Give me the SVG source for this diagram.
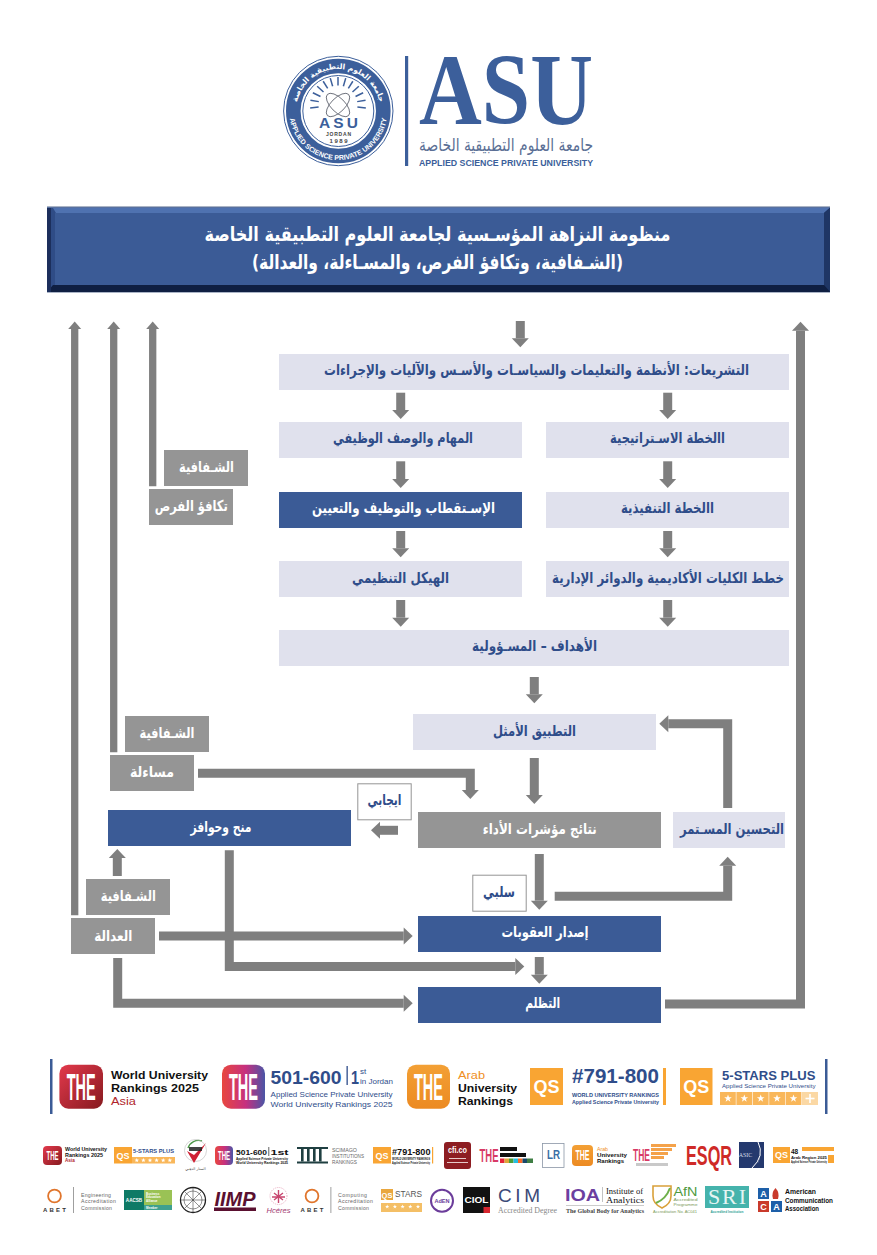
<svg xmlns="http://www.w3.org/2000/svg" width="877" height="1255" viewBox="0 0 877 1255">
<style>
.lt{fill:#e0e1ed}.bl{fill:#3b5b96}.gr{fill:#959595}
.ar{font-family:"DejaVu Sans",sans-serif;font-weight:700;text-anchor:middle;direction:rtl}
.w{fill:#fff}.n{fill:#2f4d8a}
.s{font-family:"Liberation Sans",Arial,sans-serif}
.b{font-weight:700}
.sf{font-family:"Liberation Serif","Times New Roman",serif}
.k{fill:#111}.th{fill:#fff;font-family:"Liberation Sans",sans-serif;font-weight:700;text-anchor:middle}
.pk{fill:#d83a66}
.g6{fill:#666}
.c{fill:none;stroke:#7f7f7f;stroke-width:9;stroke-linejoin:miter}
.t{stroke-width:7.3}
.ring{fill:none;stroke:#e0752c}
</style>
<defs>
<marker id="head" markerUnits="userSpaceOnUse" markerWidth="10" markerHeight="18" refX="0" refY="9" orient="auto" overflow="visible"><path d="M0 0.5L9 9L0 17.5z" fill="#7f7f7f"/></marker>
<marker id="headT" markerUnits="userSpaceOnUse" markerWidth="8" markerHeight="14" refX="0" refY="7" orient="auto" overflow="visible"><path d="M0 0.5L7.5 7L0 13.5z" fill="#7f7f7f"/></marker>
<linearGradient id="gRed" x1="0" x2="1" y1="0" y2="1"><stop offset="0" stop-color="#e3394c"/><stop offset="1" stop-color="#861a1f"/></linearGradient>
<linearGradient id="gMix" x1="0" x2="1" y1="0" y2="0"><stop offset="0" stop-color="#e8473f"/><stop offset=".55" stop-color="#c6307f"/><stop offset="1" stop-color="#4a55a6"/></linearGradient>
<linearGradient id="gOr" x1="0" x2="0" y1="0" y2="1"><stop offset="0" stop-color="#f3a035"/><stop offset="1" stop-color="#ec8a22"/></linearGradient>
<polygon id="star" fill="#fff" points="0,-4 1,-1.3 3.8,-1.2 1.5,.5 2.4,3.2 0,1.6 -2.4,3.2 -1.5,.5 -3.8,-1.2 -1,-1.3"/>
<line id="ray" x1="338" y1="85.5" x2="338" y2="77" stroke="#3c5f9b" stroke-width="1.5"/>
</defs>
<rect width="877" height="1255" fill="#fff"/>

<g id="logo-seal">
<circle cx="338.3" cy="111" r="54.7" fill="none" stroke="#3c5f9b" stroke-width="1"/>
<circle cx="338.3" cy="111" r="45" fill="none" stroke="#3c5f9b" stroke-width="14.6"/>
<circle cx="338.3" cy="111" r="35.5" fill="none" stroke="#3c5f9b" stroke-width="1"/>
<path id="sealTop" d="M296.3 111A42 42 0 0 1 380.3 111" fill="none"/>
<path id="sealBot" d="M289.3 111A49 49 0 0 0 387.3 111" fill="none"/>
<text font-family="DejaVu Sans,sans-serif" font-weight="700" font-size="7.6" fill="#fff" text-anchor="middle"><textPath href="#sealTop" startOffset="50%">جامعة العلوم التطبيقية الخاصة</textPath></text>
<text class="s b" font-size="7" fill="#fff" text-anchor="middle"><textPath href="#sealBot" startOffset="50%">APPLIED SCIENCE PRIVATE UNIVERSITY</textPath></text>
<use href="#ray" transform="rotate(-96 338 105)"/><use href="#ray" transform="rotate(-80 338 105)"/><use href="#ray" transform="rotate(-64 338 105)"/><use href="#ray" transform="rotate(-48 338 105)"/><use href="#ray" transform="rotate(-32 338 105)"/><use href="#ray" transform="rotate(-16 338 105)"/><use href="#ray"/><use href="#ray" transform="rotate(16 338 105)"/><use href="#ray" transform="rotate(32 338 105)"/><use href="#ray" transform="rotate(48 338 105)"/><use href="#ray" transform="rotate(64 338 105)"/><use href="#ray" transform="rotate(80 338 105)"/><use href="#ray" transform="rotate(96 338 105)"/>
<g fill="none" stroke="#555a66" stroke-width=".8"><ellipse cx="338" cy="105" rx="15" ry="7" transform="rotate(45 338 105)"/><ellipse cx="338" cy="105" rx="15" ry="7" transform="rotate(-45 338 105)"/></g>
<text class="s b" x="338.5" y="128" font-size="15.5" fill="#3c5f9b" text-anchor="middle" textLength="39" lengthAdjust="spacing">ASU</text>
<text class="s b" x="338.5" y="135.6" font-size="5" fill="#444" text-anchor="middle" textLength="25" lengthAdjust="spacing">JORDAN</text>
<text class="s b" x="338.5" y="143.3" font-size="6" fill="#444" text-anchor="middle" textLength="18" lengthAdjust="spacing">1989</text>
</g>
<g id="logo-asu">
<rect x="405" y="56" width="3.2" height="110" fill="#3c5f9b"/>
<text class="sf b" x="419" y="124.3" font-size="102" fill="#3c5f9b" textLength="174" lengthAdjust="spacingAndGlyphs">ASU</text>
<text x="506" y="151" font-family="DejaVu Sans,sans-serif" font-size="17.5" fill="#5b6f95" text-anchor="middle" direction="rtl" textLength="174" lengthAdjust="spacingAndGlyphs">جامعة العلوم التطبيقية الخاصة</text>
<text class="s b" x="419" y="165.5" font-size="9.6" fill="#3c5f9b" textLength="174" lengthAdjust="spacingAndGlyphs">APPLIED SCIENCE PRIVATE UNIVERSITY</text>
</g>

<g id="banner">
<rect x="47" y="206" width="783" height="87" fill="#aab4c6"/>
<rect x="47" y="207.5" width="783" height="84.5" fill="#1c2f5c"/>
<polygon points="47,207.5 830,207.5 824,213 53,213" fill="#4f72b0"/>
<polygon points="51,208 53,208 56,213 56,285 51,289" fill="#2f4c86"/>
<polygon points="824,213 830,208 830,292 824,285" fill="#1f3665"/>
<polygon points="47,292 830,292 824,285 53,285" fill="#0f1f42"/>
<rect x="47" y="208" width="4" height="84" fill="#1c2f5c"/>
<rect x="55" y="213" width="769" height="72" fill="#3b5b96"/>
<text class="ar w" x="437.5" y="241" font-size="20" textLength="466" lengthAdjust="spacingAndGlyphs">منظومة النزاهة المؤسـسية لجامعة العلوم التطبيقية الخاصة</text>
<text class="ar w" x="437.5" y="269" font-size="20" textLength="371" lengthAdjust="spacingAndGlyphs">(الشـفافية، وتكافؤ الفرص، والمسـاءلة، والعدالة)</text>
</g>

<g id="connectors">
<path class="c" marker-end="url(#head)" d="M520.3 321V338.3"/>
<path class="c" marker-end="url(#head)" d="M400.7 392.7V410"/>
<path class="c" marker-end="url(#head)" d="M400.7 461.3V479"/>
<path class="c" marker-end="url(#head)" d="M400.7 531V548.3"/>
<path class="c" marker-end="url(#head)" d="M400.7 600V617.7"/>
<path class="c" marker-end="url(#head)" d="M667.7 392.7V410"/>
<path class="c" marker-end="url(#head)" d="M667.7 461.3V479"/>
<path class="c" marker-end="url(#head)" d="M667.7 531V548.3"/>
<path class="c" marker-end="url(#head)" d="M667.7 600V617.7"/>
<path class="c" marker-end="url(#head)" d="M534.3 677V694.3"/>
<path class="c" marker-end="url(#head)" d="M534.3 758V795"/>
<path class="c" marker-end="url(#head)" d="M539.3 854V900.7"/>
<path class="c" marker-end="url(#head)" d="M539.3 957V974.7"/>
<path class="c" marker-end="url(#head)" d="M398 830.3H380"/>
<path class="c" marker-end="url(#head)" d="M117.3 876V858"/>
<path class="c" marker-end="url(#head)" d="M198 773.3H470.3V790"/>
<path class="c" marker-end="url(#head)" d="M727.7 808V723.7H668.3"/>
<path class="c" marker-end="url(#head)" d="M554.7 896.3H727.7V865.7"/>
<path class="c" marker-end="url(#head)" d="M229.3 850.3V966.5H515.3"/>
<path class="c" marker-end="url(#head)" d="M159 936H403.7"/>
<path class="c" marker-end="url(#head)" d="M117.7 958V1003.3H403.7"/>
<path class="c" marker-end="url(#head)" d="M665 1004H800.5V330.7"/>
<path class="c t" marker-end="url(#headT)" d="M74.7 915.3V329"/>
<path class="c t" marker-end="url(#headT)" d="M113.7 752.3V329"/>
<path class="c t" marker-end="url(#headT)" d="M152.7 486.3V329"/>
</g>

<g id="n-legislation"><rect class="lt" x="279" y="354" width="510" height="36"/><text class="ar n" x="536.5" y="375" font-size="15" textLength="425" lengthAdjust="spacingAndGlyphs">التشريعات: الأنظمة والتعليمات والسياسـات والأسـس والآليات والإجراءات</text></g>
<g id="n-duties"><rect class="lt" x="279" y="422" width="243" height="36"/><text class="ar n" x="403" y="443" font-size="15" textLength="140" lengthAdjust="spacingAndGlyphs">المهام والوصف الوظيفي</text></g>
<g id="n-strategic"><rect class="lt" x="546" y="422" width="243" height="36"/><text class="ar n" x="667.5" y="443" font-size="15" textLength="115" lengthAdjust="spacingAndGlyphs">االخطة الاسـتراتيجية</text></g>
<g id="n-recruit"><rect class="bl" x="279" y="492" width="243" height="36"/><text class="ar w" x="403.5" y="513" font-size="15" textLength="183" lengthAdjust="spacingAndGlyphs">الإسـتقطاب والتوظيف والتعيين</text></g>
<g id="n-exec"><rect class="lt" x="546" y="492" width="243" height="36"/><text class="ar n" x="667.5" y="513" font-size="15" textLength="93" lengthAdjust="spacingAndGlyphs">االخطة التنفيذية</text></g>
<g id="n-structure"><rect class="lt" x="279" y="561" width="243" height="36"/><text class="ar n" x="400.5" y="582.5" font-size="15" textLength="97" lengthAdjust="spacingAndGlyphs">الهيكل التنظيمي</text></g>
<g id="n-faculties"><rect class="lt" x="546" y="561" width="243" height="36"/><text class="ar n" x="668" y="582.5" font-size="15" textLength="232" lengthAdjust="spacingAndGlyphs">خطط الكليات الأكاديمية والدوائر الإدارية</text></g>
<g id="n-goals"><rect class="lt" x="279" y="630" width="510" height="36"/><text class="ar n" x="534.5" y="651" font-size="15" textLength="125" lengthAdjust="spacingAndGlyphs">الأهداف – المسـؤولية</text></g>
<g id="n-optimal"><rect class="lt" x="413" y="714" width="243" height="36"/><text class="ar n" x="534.5" y="735.5" font-size="15" textLength="83" lengthAdjust="spacingAndGlyphs">التطبيق الأمثل</text></g>
<g id="n-kpi"><rect class="gr" x="418" y="812" width="243" height="36"/><text class="ar w" x="539.7" y="833.5" font-size="15" textLength="114" lengthAdjust="spacingAndGlyphs">نتائج مؤشرات الأداء</text></g>
<g id="n-improve"><rect class="lt" x="673" y="812" width="112" height="36"/><text class="ar n" x="732" y="833.5" font-size="15" textLength="104" lengthAdjust="spacingAndGlyphs">التحسين المسـتمر</text></g>
<g id="n-penalty"><rect class="bl" x="418" y="916" width="243" height="36"/><text class="ar w" x="545" y="937" font-size="15" textLength="87" lengthAdjust="spacingAndGlyphs">إصدار العقوبات</text></g>
<g id="n-grievance"><rect class="bl" x="418" y="987" width="243" height="36"/><text class="ar w" x="542.7" y="1008" font-size="15" textLength="35" lengthAdjust="spacingAndGlyphs">التظلم</text></g>
<g id="n-negative"><rect x="472.8" y="875.2" width="53.4" height="36" fill="#fff" stroke="#959595"/><text class="ar n" x="499" y="897" font-size="15" textLength="32" lengthAdjust="spacingAndGlyphs">سلبي</text></g>
<g id="n-positive"><rect x="357.8" y="783.8" width="53.4" height="36" fill="#fff" stroke="#959595"/><text class="ar n" x="384.5" y="805" font-size="15" textLength="34" lengthAdjust="spacingAndGlyphs">ايجابي</text></g>
<g id="n-grants"><rect class="bl" x="108" y="810" width="243" height="36"/><text class="ar w" x="221" y="832" font-size="15" textLength="61" lengthAdjust="spacingAndGlyphs">منح وحوافز</text></g>
<g id="n-transp1"><rect class="gr" x="164" y="450" width="84" height="36"/><text class="ar w" x="206.5" y="471.5" font-size="15" textLength="55" lengthAdjust="spacingAndGlyphs">الشـفافية</text></g>
<g id="n-equal"><rect class="gr" x="149" y="489" width="84" height="36"/><text class="ar w" x="191.3" y="511" font-size="15" textLength="73" lengthAdjust="spacingAndGlyphs">تكافؤ الفرص</text></g>
<g id="n-transp2"><rect class="gr" x="125" y="716" width="84" height="36"/><text class="ar w" x="167" y="737.5" font-size="15" textLength="55" lengthAdjust="spacingAndGlyphs">الشـفافية</text></g>
<g id="n-account"><rect class="gr" x="110" y="755" width="84" height="36"/><text class="ar w" x="152" y="777" font-size="15" textLength="44" lengthAdjust="spacingAndGlyphs">مساءلة</text></g>
<g id="n-transp3"><rect class="gr" x="86" y="879" width="84" height="36"/><text class="ar w" x="128.3" y="900.5" font-size="15" textLength="55" lengthAdjust="spacingAndGlyphs">الشـفافية</text></g>
<g id="n-justice"><rect class="gr" x="71" y="918" width="84" height="36"/><text class="ar w" x="113.3" y="940.5" font-size="15" textLength="38" lengthAdjust="spacingAndGlyphs">العدالة</text></g>

<g id="rank-row">
<rect x="50" y="1059" width="2.5" height="55" fill="#3b5b96"/><rect x="825" y="1059" width="2.5" height="55" fill="#3b5b96"/>
<rect x="59.4" y="1064.7" width="43.6" height="44" rx="9" fill="url(#gRed)"/><text class="th" x="81.2" y="1100" font-size="36" textLength="29" lengthAdjust="spacingAndGlyphs">THE</text>
<g class="s b" font-size="11.4"><text x="111" y="1078.5" class="k" textLength="97" lengthAdjust="spacingAndGlyphs">World University</text><text x="111" y="1091.5" class="k" textLength="88" lengthAdjust="spacingAndGlyphs">Rankings 2025</text><text x="111" y="1104.5" fill="#b01f2c" font-weight="400" textLength="25" lengthAdjust="spacingAndGlyphs">Asia</text></g>
<rect x="222" y="1064.7" width="43" height="44" rx="9" fill="url(#gMix)"/><text class="th" x="243.5" y="1100" font-size="36" textLength="29" lengthAdjust="spacingAndGlyphs">THE</text>
<g class="s n"><text class="b" x="270.6" y="1084" font-size="19" textLength="71" lengthAdjust="spacingAndGlyphs">501-600</text><rect x="346.5" y="1066" width="1.3" height="19" fill="#2f4d8a"/><text class="b" x="351" y="1084" font-size="19" textLength="8" lengthAdjust="spacingAndGlyphs">1</text><text x="360" y="1074" font-size="8">st</text><text x="360" y="1084" font-size="7.4" textLength="33" lengthAdjust="spacingAndGlyphs">in Jordan</text>
<text x="270.6" y="1097" font-size="8" textLength="122" lengthAdjust="spacingAndGlyphs">Applied Science Private University</text><text x="270.6" y="1107" font-size="8" textLength="122" lengthAdjust="spacingAndGlyphs">World University Rankings 2025</text></g>
<rect x="407" y="1064.7" width="43" height="44" rx="9" fill="url(#gOr)"/><text class="th" x="428.5" y="1100" font-size="36" textLength="29" lengthAdjust="spacingAndGlyphs">THE</text>
<g class="s" font-size="11.4"><text x="458" y="1079" fill="#ef8f24" textLength="27" lengthAdjust="spacingAndGlyphs">Arab</text><text class="k b" x="458" y="1092" textLength="59" lengthAdjust="spacingAndGlyphs">University</text><text class="k b" x="458" y="1105" textLength="55" lengthAdjust="spacingAndGlyphs">Rankings</text></g>
<rect x="530" y="1068" width="33" height="37" fill="#f9a533"/><text class="th" x="546.5" y="1093" font-size="19" textLength="26" lengthAdjust="spacingAndGlyphs">QS</text>
<rect x="663" y="1068" width="3" height="37" fill="#f9a533"/>
<g class="s b n"><text x="572" y="1083" font-size="19.5" textLength="87" lengthAdjust="spacingAndGlyphs">#791-800</text><text x="572" y="1097" font-size="5.6" textLength="87" lengthAdjust="spacingAndGlyphs">WORLD UNIVERSITY RANKINGS</text><text x="572" y="1104" font-size="5.6" textLength="87" lengthAdjust="spacingAndGlyphs">Applied  Science Private University</text></g>
<rect x="680" y="1068" width="32.5" height="37" fill="#f9a533"/><text class="th" x="696.2" y="1093" font-size="19" textLength="26" lengthAdjust="spacingAndGlyphs">QS</text>
<g class="s b n"><text x="722" y="1079.5" font-size="13" textLength="93.5" lengthAdjust="spacingAndGlyphs">5-STARS PLUS</text><text x="722" y="1088" font-size="6" textLength="93.5" font-weight="400" lengthAdjust="spacingAndGlyphs">Applied Science Private University</text></g>
<g fill="#f9b75a"><rect x="720" y="1092" width="15.8" height="13"/><rect x="736.4" y="1092" width="15.8" height="13"/><rect x="752.8" y="1092" width="15.8" height="13"/><rect x="769.2" y="1092" width="15.8" height="13"/><rect x="785.6" y="1092" width="15.8" height="13"/><rect x="802" y="1092" width="16" height="13" fill="#fbd8a4"/></g>
<use href="#star" x="728" y="1098.5"/><use href="#star" x="744.3" y="1098.5"/><use href="#star" x="760.7" y="1098.5"/><use href="#star" x="777" y="1098.5"/><use href="#star" x="793.5" y="1098.5"/><rect x="809.2" y="1094" width="1.6" height="9" fill="#fff"/><rect x="805.5" y="1097.7" width="9" height="1.6" fill="#fff"/>
</g>

<g id="accred-row1">
<rect x="43" y="1146" width="19" height="19" rx="4" fill="url(#gRed)"/><text class="th" x="52.5" y="1160" font-size="13" textLength="12" lengthAdjust="spacingAndGlyphs">THE</text>
<g class="s b k" font-size="4.6"><text x="65" y="1151" textLength="42" lengthAdjust="spacingAndGlyphs">World University</text><text x="65" y="1156.5" textLength="38" lengthAdjust="spacingAndGlyphs">Rankings 2025</text><text x="65" y="1162" fill="#b01f2c">Asia</text></g>
<rect x="114" y="1147" width="18" height="16.5" fill="#f9a533"/><text class="th" x="123" y="1158.5" font-size="9">QS</text>
<text class="s b n" x="133" y="1153" font-size="6" textLength="41" lengthAdjust="spacingAndGlyphs">5-STARS PLUS</text>
<rect x="132" y="1157" width="43" height="6.5" fill="#f9b75a"/>
<g transform="scale(.6)"><use href="#star" x="228" y="1934"/><use href="#star" x="239" y="1934"/><use href="#star" x="250" y="1934"/><use href="#star" x="261" y="1934"/><use href="#star" x="272" y="1934"/><use href="#star" x="283" y="1934"/></g>
<path d="M188 1148a11 11 0 0 1 14-7" fill="none" stroke="#4f9a4a" stroke-width="1.4"/><circle cx="195.5" cy="1150.5" r="11" fill="none" stroke="#bbb" stroke-width=".6"/>
<path d="M187 1151L194 1163L206 1143L194 1155z" fill="#cf2034"/><rect x="189" y="1147" width="13" height="4" fill="#222" opacity=".85"/>
<text x="195.5" y="1170" font-family="DejaVu Sans,sans-serif" font-size="3.6" fill="#444" text-anchor="middle" direction="rtl">الستار الذهبي</text>
<rect x="215" y="1146" width="18" height="19" rx="4" fill="url(#gMix)"/><text class="th" x="224" y="1160" font-size="13" textLength="12" lengthAdjust="spacingAndGlyphs">THE</text>
<g class="s b k"><text x="236" y="1154.5" font-size="8" textLength="31" lengthAdjust="spacingAndGlyphs">501-600</text><rect x="268.5" y="1147" width=".7" height="9" fill="#222"/><text x="270.5" y="1154.5" font-size="8" textLength="18" lengthAdjust="spacingAndGlyphs">1st</text><text x="236" y="1159.7" font-size="3.4" textLength="52" lengthAdjust="spacingAndGlyphs">Applied Science Private University</text><text x="236" y="1164" font-size="3.4" textLength="52" lengthAdjust="spacingAndGlyphs">World University Rankings 2025</text></g>
<g fill="#1f3f41"><rect x="297" y="1147" width="31" height="2"/><rect x="297" y="1161.5" width="31" height="2"/><rect x="301" y="1149" width="2.6" height="12.5"/><rect x="307" y="1149" width="2.6" height="12.5"/><rect x="313" y="1149" width="2.6" height="12.5"/><rect x="319" y="1149" width="2.6" height="12.5"/></g>
<g class="s g6" font-size="5"><text x="332" y="1151.5" textLength="25" lengthAdjust="spacingAndGlyphs">SCIMAGO</text><text x="332" y="1157.5" textLength="32" lengthAdjust="spacingAndGlyphs">INSTITUTIONS</text><text x="332" y="1163.5" textLength="25" lengthAdjust="spacingAndGlyphs">RANKINGS</text></g>
<rect x="373" y="1147" width="18" height="16.5" fill="#f9a533"/><text class="th" x="382" y="1158.5" font-size="9">QS</text><rect x="432" y="1147" width="1.2" height="16.5" fill="#f9a533"/>
<g class="s b k"><text x="392" y="1155" font-size="8.6" textLength="38.5" lengthAdjust="spacingAndGlyphs">#791-800</text><text x="392" y="1159.6" font-size="3" textLength="38" lengthAdjust="spacingAndGlyphs">WORLD UNIVERSITY RANKINGS</text><text x="392" y="1163.5" font-size="3" textLength="38" lengthAdjust="spacingAndGlyphs">Applied Science Private University</text></g>
<rect x="444" y="1142" width="27" height="27" rx="3" fill="#8d1d22"/><text class="th" x="457.5" y="1153" font-size="9" textLength="19" lengthAdjust="spacingAndGlyphs">cfi.co</text><rect x="449" y="1158" width="17" height="1" fill="#e7c9c9"/><rect x="447" y="1162" width="21" height="1" fill="#e7c9c9"/>
<text class="th pk" x="489" y="1162" font-size="18" textLength="19" lengthAdjust="spacingAndGlyphs" style="fill:#d83a66">THE</text>
<rect x="500" y="1147" width="17" height="4" fill="#111"/><rect x="500" y="1153" width="26" height="4" fill="#111"/>
<g><rect x="500" y="1158.5" width="4.5" height="4.5" fill="#e5243b"/><rect x="504.5" y="1158.5" width="4.5" height="4.5" fill="#dda63a"/><rect x="509" y="1158.5" width="4.5" height="4.5" fill="#4c9f38"/><rect x="513.5" y="1158.5" width="4.5" height="4.5" fill="#26bde2"/><rect x="518" y="1158.5" width="4.5" height="4.5" fill="#fd6925"/><rect x="522.5" y="1158.5" width="4.5" height="4.5" fill="#19486a"/><rect x="527" y="1158.5" width="6" height="4.5" fill="#3f7e44"/></g>
<rect x="542.5" y="1143.5" width="21.5" height="24" fill="#fff" stroke="#8a96a6" stroke-width=".8"/><text x="553.5" y="1159" class="s b" font-size="12" fill="#3a6ea5" text-anchor="middle" textLength="13" lengthAdjust="spacingAndGlyphs">LR</text>
<rect x="572" y="1145" width="21" height="21" rx="4" fill="url(#gOr)"/><text class="th" x="582.5" y="1160" font-size="14" textLength="14" lengthAdjust="spacingAndGlyphs">THE</text>
<g class="s b k" font-size="5.2"><text x="597" y="1151" fill="#ef8f24" font-weight="400">Arab</text><text x="597" y="1157" textLength="30" lengthAdjust="spacingAndGlyphs">University</text><text x="597" y="1163" textLength="27" lengthAdjust="spacingAndGlyphs">Rankings</text></g>
<text class="th pk" x="641.5" y="1161" font-size="17" textLength="17" lengthAdjust="spacingAndGlyphs" style="fill:#d83a66">THE</text>
<g fill="#f4a24a"><rect x="651" y="1144" width="25" height="3"/><rect x="651" y="1148" width="21" height="3"/><rect x="651" y="1152" width="17" height="3"/><rect x="651" y="1156" width="13" height="3"/></g>
<rect x="636" y="1163" width="32" height="3" fill="#c9c9c9"/>
<text class="s b" x="709" y="1164.5" font-size="27" fill="#cf2a27" text-anchor="middle" textLength="46" lengthAdjust="spacingAndGlyphs">ESQR</text>
<path d="M739 1142H764L757 1168H739z" fill="#24396e"/><path d="M764 1142V1168H755Q764 1155 759 1142z" fill="#24396e"/><path d="M758 1142Q765 1156 752 1168" fill="none" stroke="#fff" stroke-width="1"/><text x="745.5" y="1157" class="sf" font-size="6" fill="#d5dbe8" text-anchor="middle">ASIC</text>
<rect x="773" y="1147" width="17" height="16" fill="#f9a533"/><text class="th" x="781.5" y="1158" font-size="9">QS</text>
<rect x="802" y="1147" width="32" height="4" fill="#f9a533"/><rect x="828" y="1155" width="6" height="8" fill="#f9a533"/>
<g class="s b k"><text x="791" y="1153.5" font-size="6.5">48</text><text x="791" y="1158.5" font-size="4" textLength="36" lengthAdjust="spacingAndGlyphs">Arab Region 2025</text><text x="791" y="1162.5" font-size="2.8" textLength="36" lengthAdjust="spacingAndGlyphs">Applied Science Private University</text></g>
</g>

<g id="accred-row2">
<circle class="ring" cx="54.5" cy="1196" r="6.4" stroke-width="1.8"/><text class="s b" x="54.5" y="1212" font-size="6" fill="#333" text-anchor="middle" textLength="23" lengthAdjust="spacing">ABET</text><rect x="73" y="1187" width=".8" height="26" fill="#888"/>
<g class="s g6" font-size="5.2"><text x="81" y="1196.5" textLength="30" lengthAdjust="spacing">Engineering</text><text x="81" y="1203" textLength="35" lengthAdjust="spacing">Accreditation</text><text x="81" y="1209.5" textLength="31" lengthAdjust="spacing">Commission</text></g>
<rect x="124" y="1190" width="20" height="20" fill="#0e7a66"/><rect x="144" y="1190" width="28" height="20" fill="#9ac255"/><rect x="144" y="1205" width="28" height="5" fill="#3fa08f"/>
<text class="s b" x="134" y="1202" font-size="4.6" fill="#fff" text-anchor="middle">AACSB</text><g class="s b" font-size="3" fill="#fff"><text x="146" y="1194.5">Business</text><text x="146" y="1198">Education</text><text x="146" y="1201.5">Alliance</text><text x="146" y="1209">Member</text></g>
<g fill="none" stroke="#222"><circle cx="193" cy="1200" r="12.5" stroke-width="1.3"/><circle cx="193" cy="1200" r="9" stroke-width=".5"/><path d="M181 1200H205M193 1188V1212M185 1192L201 1208M201 1192L185 1208" stroke-width=".5"/></g>
<text class="s b" x="235" y="1205.5" font-size="21" font-style="italic" fill="#5a1030" text-anchor="middle" textLength="41" lengthAdjust="spacingAndGlyphs">IIMP</text><rect x="214" y="1207.5" width="42" height="3.5" fill="#5a1030"/>
<circle cx="278.5" cy="1196" r="8.5" fill="none" stroke="#e08aa8" stroke-width=".7" stroke-dasharray="1 1"/><path d="M278.5 1190V1203M274 1193L283 1200M283 1193L274 1200M272 1197H285" stroke="#c8456f" stroke-width="1.4" fill="none"/>
<text x="278.5" y="1212.5" class="s" font-style="italic" font-size="7" fill="#a2386f" text-anchor="middle" textLength="24" lengthAdjust="spacingAndGlyphs">Hcéres</text>
<circle class="ring" cx="312" cy="1196" r="6.4" stroke-width="1.8"/><text class="s b" x="312" y="1212" font-size="6" fill="#333" text-anchor="middle" textLength="23" lengthAdjust="spacing">ABET</text><rect x="330.5" y="1187" width=".8" height="26" fill="#888"/>
<g class="s g6" font-size="5.2"><text x="338" y="1196.5" textLength="29" lengthAdjust="spacing">Computing</text><text x="338" y="1203" textLength="35" lengthAdjust="spacing">Accreditation</text><text x="338" y="1209.5" textLength="31" lengthAdjust="spacing">Commission</text></g>
<rect x="381" y="1189" width="12" height="11" fill="#e9a73f"/><text class="th" x="387" y="1197.5" font-size="7.5">QS</text><text class="s" x="395" y="1197" font-size="8.5" fill="#555" textLength="27" lengthAdjust="spacingAndGlyphs">STARS</text>
<rect x="381" y="1203" width="41" height="9" fill="#f4bf66"/><g transform="scale(.55)"><use href="#star" x="704" y="2194"/><use href="#star" x="718" y="2194"/><use href="#star" x="732" y="2194"/><use href="#star" x="746" y="2194"/><use href="#star" x="760" y="2194"/></g>
<circle cx="442" cy="1200.7" r="11" fill="#fff" stroke="#6b3c9a" stroke-width="2"/><text x="442" y="1203" class="s b" font-size="5.6" fill="#6b3c9a" text-anchor="middle">AdEN</text>
<rect x="463" y="1187" width="27" height="26" fill="#111"/><rect x="483.5" y="1207" width="6.5" height="6" fill="#d7262f"/><text class="th" x="476.5" y="1203" font-size="8.4" textLength="24" lengthAdjust="spacingAndGlyphs">CIOL</text>
<text class="s" x="498" y="1202" font-size="19" fill="#3c4a78" textLength="42" lengthAdjust="spacing" font-weight="400">CIM</text><text class="sf" x="498" y="1213" font-size="7.4" fill="#888" textLength="59" lengthAdjust="spacingAndGlyphs">Accredited Degree</text>
<text class="s b" x="565" y="1201" font-size="16" fill="#6c3fa0" textLength="35" lengthAdjust="spacingAndGlyphs">IOA</text><rect x="602" y="1187" width=".6" height="15" fill="#999"/>
<g class="sf k" font-size="7.2"><text x="606" y="1194" textLength="37" lengthAdjust="spacingAndGlyphs">Institute of</text><text x="606" y="1202.5" textLength="38" lengthAdjust="spacingAndGlyphs">Analytics</text><text x="566" y="1213" font-size="6.6" font-weight="700" fill="#444" textLength="78" lengthAdjust="spacingAndGlyphs">The Global Body for Analytics</text></g><rect x="566" y="1205.5" width="78" height=".5" fill="#999"/>
<path d="M653 1186H671V1196Q671 1204 662 1208Q653 1204 653 1196z" fill="#fff" stroke="#d9a03a" stroke-width="1.6"/><path d="M656 1203Q666 1199 670 1188" fill="none" stroke="#6eb04a" stroke-width="2"/>
<text class="s" x="673.5" y="1196" font-size="13" fill="#4f9a3e" textLength="24" lengthAdjust="spacingAndGlyphs">AfN</text><g class="s" fill="#7a9a5a"><text x="673.5" y="1201" font-size="3.8" textLength="24" lengthAdjust="spacingAndGlyphs">Accredited</text><text x="673.5" y="1205.5" font-size="3.8" textLength="24" lengthAdjust="spacingAndGlyphs">Programme</text><text x="653" y="1213" font-size="4.2" textLength="44" lengthAdjust="spacingAndGlyphs">Accreditation No. AC041</text></g>
<rect x="705" y="1186" width="44" height="22" fill="#45b3ac"/><text class="sf" x="727" y="1204" font-size="22" fill="#e5f5f3" text-anchor="middle" textLength="38" lengthAdjust="spacing">SRI</text><text class="s" x="727" y="1213" font-size="3.8" font-weight="700" fill="#2f9e96" text-anchor="middle" textLength="33" lengthAdjust="spacingAndGlyphs">Accredited Institution</text>
<rect x="758" y="1188" width="11" height="11" fill="#1d5fa8"/><path d="M775.5 1188Q780 1193 778 1199H773Q771 1193 775.5 1188z" fill="#c93a2b"/><rect x="758" y="1201" width="11" height="11" fill="#c93a2b"/><rect x="771" y="1201" width="11" height="11" fill="#1d5fa8"/>
<g class="th" font-size="9"><text x="763.5" y="1197">A</text><text x="763.5" y="1210">C</text><text x="776.5" y="1210">A</text></g>
<g class="s b k" font-size="7"><text x="785" y="1194" textLength="31" lengthAdjust="spacingAndGlyphs">American</text><text x="785" y="1202.5" textLength="48" lengthAdjust="spacingAndGlyphs">Communication</text><text x="785" y="1211" textLength="34" lengthAdjust="spacingAndGlyphs">Association</text></g>
</g>
</svg>
